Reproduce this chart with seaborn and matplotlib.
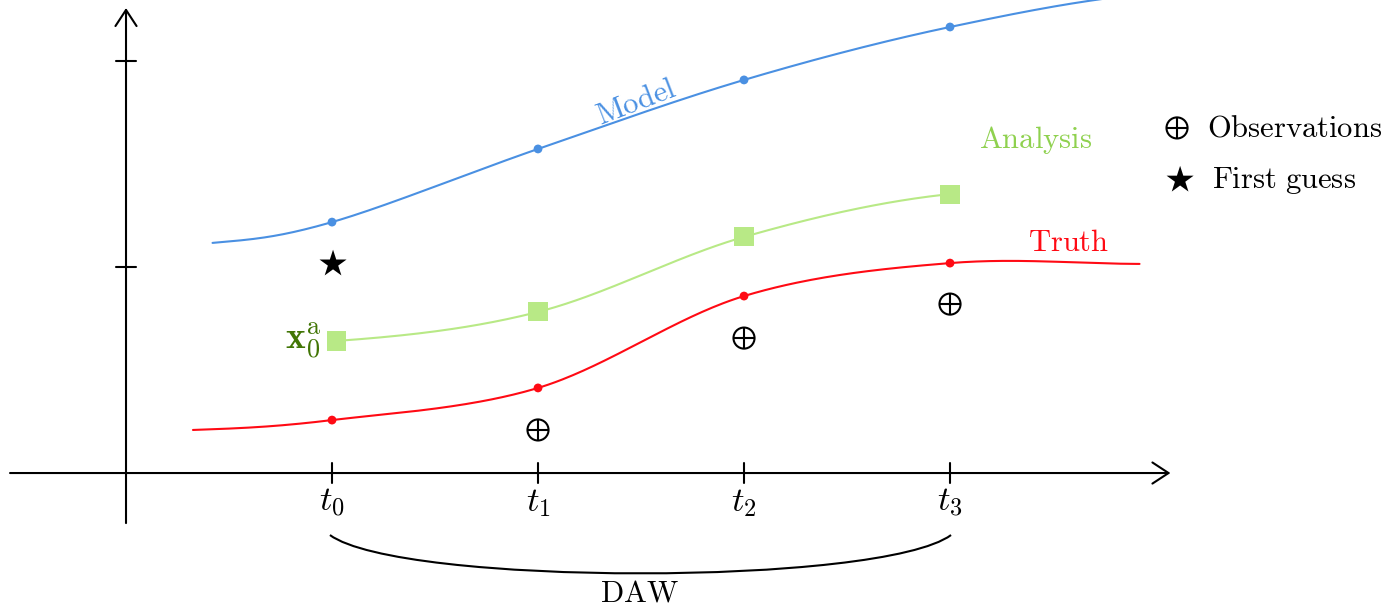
import numpy as np
import pandas as pd
import matplotlib
matplotlib.use("Agg")
import matplotlib.pyplot as plt
from matplotlib.path import Path
from matplotlib.patches import PathPatch
import seaborn as sns

# time positions of the assimilation window
times = [1, 2, 3, 4]
time_labels = [r"$t_0$", r"$t_1$", r"$t_2$", r"$t_3$"]

# model trajectory (knots), with dots at t0..t3
model_x = [0.42, 1, 2, 3, 4, 5.0]
model_y = [1.117, 1.218, 1.573, 1.908, 2.165, 2.33]
model_dots = [1.218, 1.573, 1.908, 2.165]

# analysis trajectory
analysis_x = [1.02, 2, 3, 4]
analysis_y = [0.641, 0.782, 1.146, 1.354]

# truth trajectory
truth_x = [0.325, 1, 2, 3, 4, 4.92]
truth_y = [0.209, 0.257, 0.413, 0.859, 1.019, 1.015]
truth_dots = [0.257, 0.413, 0.859, 1.019]

# observations at t1..t3 and first guess at t0
obs_x = [2, 3, 4]
obs_y = [0.209, 0.655, 0.820]
guess_x = [1.005]
guess_y = [1.015]

blue = "#4a90e2"
green = "#b8e986"
green_lbl = "#8fd14f"
dark_green = "#417505"
red = "#ff0a14"


def smooth(xs, ys, n=60):
    # parametric catmull-rom, ends eased towards horizontal
    p = np.column_stack([xs, ys]).astype(float)
    first = p[0] - [p[1, 0] - p[0, 0], 0]
    last = p[-1] + [p[-1, 0] - p[-2, 0], 0]
    p = np.vstack([first, p, last])
    out = []
    for i in range(1, len(p) - 2):
        p0, p1, p2, p3 = p[i - 1], p[i], p[i + 1], p[i + 2]
        t = np.linspace(0, 1, n)[:, None]
        m1 = (p2 - p0) / 2
        m2 = (p3 - p1) / 2
        h00 = 2 * t**3 - 3 * t**2 + 1
        h10 = t**3 - 2 * t**2 + t
        h01 = -2 * t**3 + 3 * t**2
        h11 = t**3 - t**2
        out.append(h00 * p1 + h10 * m1 + h01 * p2 + h11 * m2)
    return np.vstack(out)


sns.set_theme(style="white")
plt.rcParams["mathtext.fontset"] = "cm"
plt.rcParams["font.family"] = ["DejaVu Serif"]
plt.rcParams["text.color"] = "black"

fig = plt.figure(figsize=(13.83, 6.09), dpi=100)
ax = fig.add_axes([0, 0, 1, 1])
ax.set_xlim(-0.6117, 6.1019)
ax.set_ylim(-0.660, 2.296)
ax.axis("off")

fs = 22

# axes with open arrow heads
arrow = dict(arrowstyle="->,head_length=0.58,head_width=0.38", lw=1.5,
             color="black", mutation_scale=20, shrinkA=0, shrinkB=0)
ax.annotate("", xy=(5.07, 0), xytext=(-0.563, 0), arrowprops=arrow)
ax.annotate("", xy=(0, 2.257), xytext=(0, -0.243), arrowprops=arrow)
for yv in [1, 2]:
    ax.plot([-0.0485, 0.0485], [yv, yv], color="black", lw=1.5)
for t, lbl in zip(times, time_labels):
    ax.plot([t, t], [-0.0485, 0.0485], color="black", lw=1.5)
    ax.text(t, -0.14, lbl, ha="center", va="center", fontsize=25, color="black")

# curves
for xs, ys, c in [(model_x, model_y, blue), (analysis_x, analysis_y, green),
                  (truth_x, truth_y, red)]:
    pts = smooth(xs, ys)
    df = pd.DataFrame({"x": pts[:, 0], "y": pts[:, 1]})
    sns.lineplot(data=df, x="x", y="y", sort=False, estimator=None,
                 color=c, lw=1.5, ax=ax)

sns.scatterplot(x=times, y=model_dots, color=blue, s=40, edgecolor="none", ax=ax, zorder=5)
sns.scatterplot(x=times, y=truth_dots, color=red, s=40, edgecolor="none", ax=ax, zorder=5)
sns.scatterplot(x=analysis_x, y=analysis_y, color=green, marker="s", s=190,
                edgecolor="none", ax=ax, zorder=5)

# observations (circle plus) and first guess (star)
sns.scatterplot(x=obs_x, y=obs_y, marker="o", s=230, facecolor="none",
                edgecolor="black", linewidth=1.5, ax=ax, zorder=5)
sns.scatterplot(x=obs_x, y=obs_y, marker="+", s=230, color="black",
                linewidth=1.5, ax=ax, zorder=5)
sns.scatterplot(x=guess_x, y=guess_y, marker="*", s=420, color="black",
                edgecolor="none", ax=ax, zorder=5)

# labels
ax.text(2.476, 1.80, r"$\mathrm{Model}$", color=blue, fontsize=fs,
        rotation=21, ha="center", va="center", rotation_mode="anchor")
ax.text(4.417, 1.617, r"$\mathrm{Analysis}$", color=green_lbl, fontsize=fs,
        ha="center", va="center")
ax.text(4.578, 1.117, r"$\mathrm{Truth}$", color=red, fontsize=fs,
        ha="center", va="center")
ax.text(0.95, 0.64, r"$\mathbf{x}_0^{\mathrm{a}}$", color=dark_green,
        fontsize=27, ha="right", va="center")

# legend on the right
ax.scatter([5.102], [1.675], marker="o", s=230, facecolor="none",
           edgecolor="black", linewidth=1.5)
ax.scatter([5.102], [1.675], marker="+", s=230, color="black", linewidth=1.5)
ax.text(5.248, 1.675, r"$\mathrm{Observations}$", fontsize=fs, va="center",
        color="black")
ax.scatter([5.117], [1.422], marker="*", s=420, color="black", edgecolor="none")
ax.text(5.272, 1.422, r"$\mathrm{First\ guess}$", fontsize=fs, va="center",
        color="black")

# DAW brace under t0..t3
x0, x3 = times[0] - 0.01, times[-1] + 0.005
verts = [(x0, -0.301), (x0 + 0.34, -0.549), (x3 - 0.34, -0.549), (x3, -0.301)]
brace = Path(verts, [Path.MOVETO, Path.CURVE4, Path.CURVE4, Path.CURVE4])
ax.add_patch(PathPatch(brace, facecolor="none", edgecolor="black", lw=1.5))
ax.text(2.495, -0.583, r"$\mathrm{DAW}$", fontsize=fs, ha="center", va="center",
        color="black")

fig.savefig("out.png", dpi=100)
